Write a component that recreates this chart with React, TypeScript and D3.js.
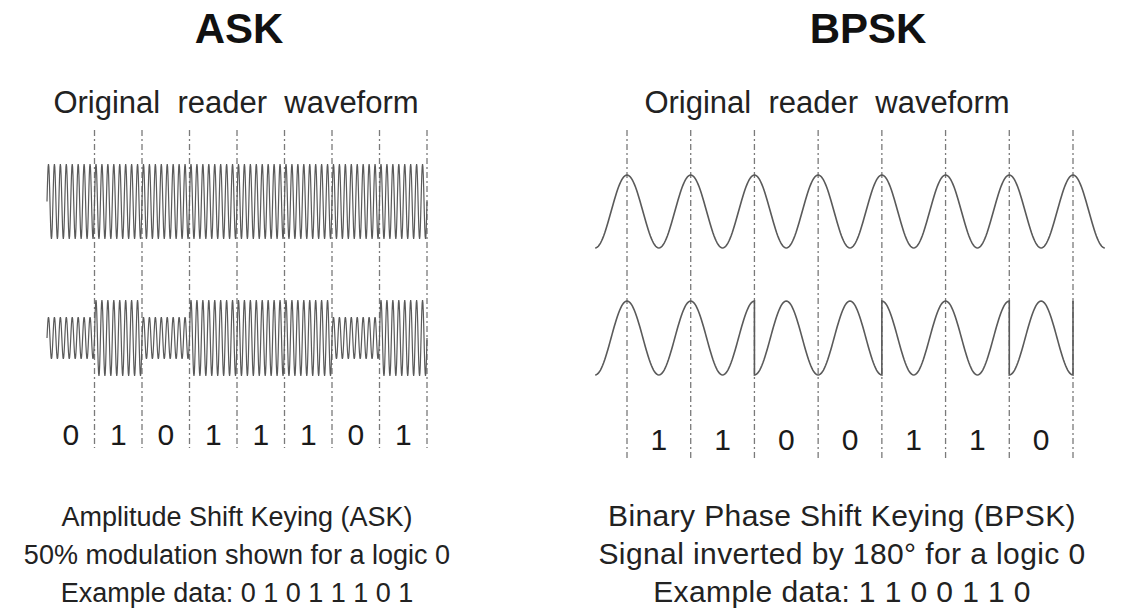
import React from 'react';
import * as d3 from 'd3';

// bit streams shown under each waveform
const askBits = [0, 1, 0, 1, 1, 1, 0, 1];
const bpskBits = [1, 1, 0, 0, 1, 1, 0];

// ASK: carrier amplitude for logic 0 / logic 1
const askAmplitude = [0.55, 1];
// BPSK: carrier polarity for logic 0 / logic 1 (0 = inverted by 180°)
const bpskSign = [-1, 1];

// carrier cycles per bit
const askCyclesPerBit = 8;
const bpskCyclesPerBit = 1;

const titles = ['ASK', 'BPSK'];
const subTitle = 'Original  reader  waveform';
const askCaption = [
  'Amplitude Shift Keying (ASK)',
  '50% modulation shown for a logic 0',
  'Example data:  0 1 0 1 1 1 0 1',
];
const bpskCaption = [
  'Binary Phase Shift Keying (BPSK)',
  'Signal inverted by 180° for a logic 0',
  'Example data: 1 1  0 0  1 1  0',
];

const W = 1123;
const H = 612;
const FONT = '"Liberation Sans", Arial, Helvetica, sans-serif';
const WAVE = '#5a5a5a';
const GRID = '#7a7a7a';

type Pt = [number, number];

export default function App() {
  // ---------- ASK ----------
  const askX = d3.scaleLinear().domain([0, askBits.length]).range([47, 427]);
  const askTopY = d3.scaleLinear().domain([-1, 1]).range([239, 164]);
  const askBotY = d3.scaleLinear().domain([-1, 1]).range([376, 300]);

  const askStep = 1 / (askCyclesPerBit * 16);
  const askCarrier: Pt[] = [];
  const askModulated: Pt[] = [];
  askBits.forEach((b, i) => {
    d3.range(i, i + 1 + askStep / 2, askStep).forEach(t => {
      const v = Math.sin(2 * Math.PI * askCyclesPerBit * t);
      askCarrier.push([t, v]);
      askModulated.push([t, askAmplitude[b] * v]);
    });
  });

  const askTopLine = d3.line<Pt>().x(d => askX(d[0])).y(d => askTopY(d[1]));
  const askBotLine = d3.line<Pt>().x(d => askX(d[0])).y(d => askBotY(d[1]));

  // ---------- BPSK ----------
  const bpskX = d3.scaleLinear().domain([0, bpskBits.length]).range([627, 1073]);
  const bpskTopY = d3.scaleLinear().domain([-1, 1]).range([248, 175]);
  const bpskBotY = d3.scaleLinear().domain([-1, 1]).range([375, 301]);

  const bStep = 1 / 60;
  const bpskCarrier: Pt[] = d3
    .range(-0.5, bpskBits.length + 0.5 + bStep / 2, bStep)
    .map(t => [t, Math.cos(2 * Math.PI * bpskCyclesPerBit * t)] as Pt);

  const bpskModulated: Pt[] = [];
  // lead-in half cycle before the first bit
  d3.range(-0.5, 0 + bStep / 2, bStep).forEach(t =>
    bpskModulated.push([t, bpskSign[bpskBits[0]] * Math.cos(2 * Math.PI * t)])
  );
  bpskBits.forEach((b, i) => {
    d3.range(i, i + 1 + bStep / 2, bStep).forEach(t =>
      bpskModulated.push([t, bpskSign[b] * Math.cos(2 * Math.PI * bpskCyclesPerBit * t)])
    );
  });
  // closing edge at the last boundary
  bpskModulated.push([bpskBits.length, 1]);

  const bpskTopLine = d3.line<Pt>().x(d => bpskX(d[0])).y(d => bpskTopY(d[1]));
  const bpskBotLine = d3.line<Pt>().x(d => bpskX(d[0])).y(d => bpskBotY(d[1]));

  const askBoundaries = d3.range(1, askBits.length + 1);
  const bpskBoundaries = d3.range(0, bpskBits.length + 1);

  const dash = '6 3 2 3';

  return (
    <svg
      width={W}
      height={H}
      viewBox={`0 0 ${W} ${H}`}
      style={{ position: 'absolute', left: 0, top: 0, background: '#fff' }}
      fontFamily={FONT}
    >
      <rect width={W} height={H} fill="#fff" />

      {/* titles */}
      <text x={239} y={43} textAnchor="middle" fontSize={42} fontWeight="bold" fill="#111">
        {titles[0]}
      </text>
      <text x={868} y={43} textAnchor="middle" fontSize={42} fontWeight="bold" fill="#111">
        {titles[1]}
      </text>
      <text x={236} y={113} textAnchor="middle" fontSize={31} fill="#222" style={{ whiteSpace: 'pre' }}>
        {subTitle}
      </text>
      <text x={827} y={113} textAnchor="middle" fontSize={31} fill="#222" style={{ whiteSpace: 'pre' }}>
        {subTitle}
      </text>

      {/* ASK bit boundaries */}
      <g stroke={GRID} strokeWidth={1.3} strokeDasharray={dash}>
        {askBoundaries.map(t => (
          <line key={t} x1={askX(t)} x2={askX(t)} y1={130} y2={448} />
        ))}
      </g>
      {/* BPSK bit boundaries */}
      <g stroke={GRID} strokeWidth={1.3} strokeDasharray={dash}>
        {bpskBoundaries.map(t => (
          <line key={t} x1={bpskX(t)} x2={bpskX(t)} y1={130} y2={460} />
        ))}
      </g>

      {/* waveforms */}
      <g fill="none" stroke={WAVE}>
        <path d={askTopLine(askCarrier) || ''} strokeWidth={1.2} />
        <path d={askBotLine(askModulated) || ''} strokeWidth={1.2} />
        <path d={bpskTopLine(bpskCarrier) || ''} strokeWidth={1.6} />
        <path d={bpskBotLine(bpskModulated) || ''} strokeWidth={1.6} />
      </g>

      {/* bit labels */}
      <g fontSize={30} fill="#1a1a1a" textAnchor="middle">
        {askBits.map((b, i) => (
          <text key={i} x={askX(i + 0.5)} y={445}>
            {b}
          </text>
        ))}
        {bpskBits.map((b, i) => (
          <text key={i} x={bpskX(i + 0.5)} y={450}>
            {b}
          </text>
        ))}
      </g>

      {/* captions */}
      <g fontSize={27} fill="#222" textAnchor="middle" style={{ whiteSpace: 'pre' }}>
        {askCaption.map((s, i) => (
          <text key={i} x={237} y={526 + i * 38}>
            {s}
          </text>
        ))}
      </g>
      <g fontSize={30} fill="#222" textAnchor="middle" letterSpacing={0.4} style={{ whiteSpace: 'pre' }}>
        {bpskCaption.map((s, i) => (
          <text key={i} x={842} y={526 + i * 38}>
            {s}
          </text>
        ))}
      </g>
    </svg>
  );
}
